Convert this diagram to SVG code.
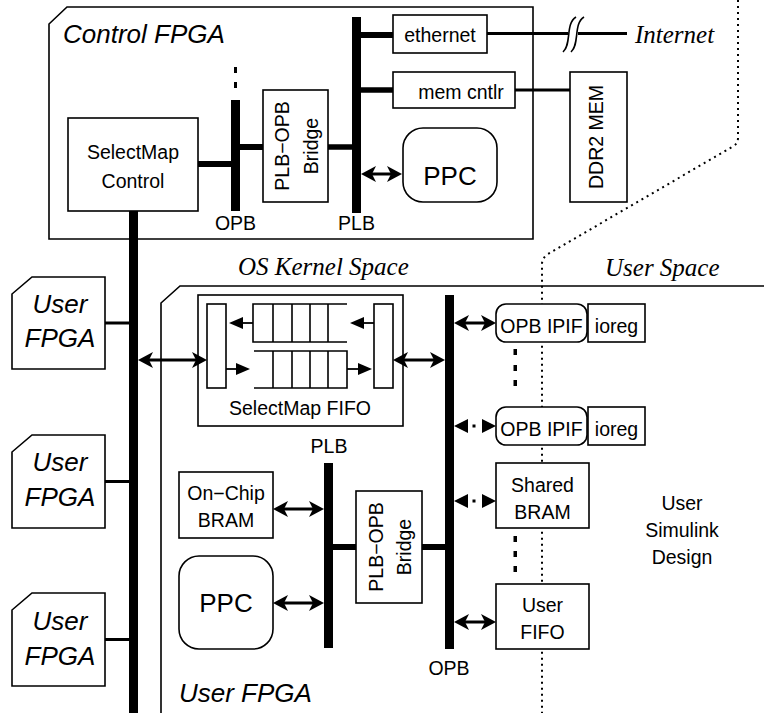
<svg xmlns="http://www.w3.org/2000/svg" width="764" height="713" viewBox="0 0 764 713">
<style>
.box{fill:#fff;stroke:#000;stroke-width:1.6}
.frame{fill:none;stroke:#000;stroke-width:1.6}
.bus{fill:#000;stroke:none}
.t{font-family:"Liberation Sans",Arial,sans-serif;font-size:19.5px;text-anchor:middle;fill:#000}
.big{font-size:26px}
.ti{font-family:"Liberation Sans",Arial,sans-serif;font-style:italic;font-size:26px;fill:#000}
.tr{font-family:"Liberation Serif","Times New Roman",serif;font-style:italic;font-size:25px;fill:#000}
.thick{stroke:#000;stroke-width:5.5;fill:none}
.thin{stroke:#000;stroke-width:3;fill:none}
.arr{stroke:#000;stroke-width:3;fill:none;marker-start:url(#ah);marker-end:url(#ah)}
.sarr{stroke:#000;stroke-width:1.8;fill:none;marker-end:url(#sh)}
.dotl{stroke:#000;stroke-width:2;stroke-dasharray:2 4;fill:none}
.fifo{stroke:#000;stroke-width:1.6;fill:none}
</style>
<defs>
<marker id="ah" viewBox="-12 -9 18 18" refX="0" refY="0" markerWidth="18" markerHeight="18" markerUnits="userSpaceOnUse" orient="auto-start-reverse">
<path d="M5,0 L-10,-8 L-6,0 L-10,8 Z" fill="#000"/>
</marker>
<marker id="sh" viewBox="-13 -7 18 14" refX="0" refY="0" markerWidth="18" markerHeight="14" markerUnits="userSpaceOnUse" orient="auto">
<path d="M3,0 L-11,-6 L-11,6 Z" fill="#000"/>
</marker>
</defs>

<!-- space separator -->
<path class="dotl" d="M738,0 L738,138 Q738,144 732,147 L548,254 Q542,258 542,264 L542,713"/>

<g id="control-fpga">
<polygon class="box" points="67,7 533,7 533,239 49,239 49,24"/>
<text class="ti" x="63" y="43">Control FPGA</text>
</g>

<g id="ctrl-plb-bus">
<rect class="bus" x="352" y="17" width="9" height="196"/>
<text class="t" x="356.5" y="230">PLB</text>
</g>
<g id="ctrl-opb-bus">
<rect class="bus" x="231" y="100" width="9" height="111"/>
<rect class="bus" x="234" y="67" width="3" height="6"/>
<rect class="bus" x="234" y="82" width="3" height="6"/>
<text class="t" x="235.5" y="230">OPB</text>
</g>
<g id="selectmap-bus">
<rect class="bus" x="129" y="211" width="9" height="502"/>
</g>

<g id="selectmap-control">
<rect class="box" x="68" y="118" width="130" height="93"/>
<text class="t" x="133" y="159">SelectMap</text>
<text class="t" x="133" y="188">Control</text>
</g>
<g id="ctrl-bridge">
<rect class="box" x="263" y="90" width="65" height="112"/>
<text class="t" transform="translate(289,146) rotate(-90)">PLB−OPB</text>
<text class="t" transform="translate(318,146) rotate(-90)">Bridge</text>
</g>
<g id="ethernet">
<rect class="box" x="393" y="15" width="94" height="38"/>
<text class="t" x="440" y="42">ethernet</text>
</g>
<g id="mem-cntlr">
<rect class="box" x="393" y="72" width="122" height="36"/>
<text class="t" x="461" y="99">mem cntlr</text>
</g>
<g id="ctrl-ppc">
<rect class="box" x="403" y="128" width="94" height="74" rx="20" ry="20"/>
<text class="t big" x="450" y="185">PPC</text>
</g>
<g id="ddr2-mem">
<rect class="box" x="570" y="72" width="57" height="130"/>
<text class="t" transform="translate(603,137) rotate(-90)">DDR2 MEM</text>
</g>
<g id="internet">
<text class="tr" x="635" y="43">Internet</text>
</g>

<g id="labels">
<text class="tr" x="238" y="275">OS Kernel Space</text>
<text class="tr" x="605" y="276">User Space</text>
</g>

<g id="user-fpga-1">
<polygon class="box" points="32,277 105,277 105,369 12,369 12,294"/>
<text class="ti" x="60" y="313" text-anchor="middle">User</text>
<text class="ti" x="60" y="347" text-anchor="middle">FPGA</text>
</g>
<g id="user-fpga-2">
<polygon class="box" points="32,435 105,435 105,528 12,528 12,452"/>
<text class="ti" x="60" y="471" text-anchor="middle">User</text>
<text class="ti" x="60" y="506" text-anchor="middle">FPGA</text>
</g>
<g id="user-fpga-3">
<polygon class="box" points="32,593 105,593 105,686 12,686 12,610"/>
<text class="ti" x="60" y="630" text-anchor="middle">User</text>
<text class="ti" x="60" y="665" text-anchor="middle">FPGA</text>
</g>

<g id="user-fpga">
<polyline class="frame" points="161,713 161,303 180,286 764,286"/>
<text class="ti" x="179" y="702">User FPGA</text>
</g>

<g id="selectmap-fifo">
<rect class="box" x="198" y="295" width="205" height="131"/>
<rect class="box" x="207" y="304" width="19" height="84"/>
<rect class="box" x="374" y="304" width="19" height="84"/>
<path class="fifo" d="M347,304 H253 V342 H347 M273,304 V342 M292,304 V342 M310,304 V342 M328,304 V342"/>
<path class="fifo" d="M254,351 H347 V388 H254 M273,351 V388 M292,351 V388 M310,351 V388 M328,351 V388"/>
<line class="sarr" x1="253" y1="323" x2="232" y2="323"/>
<line class="sarr" x1="374" y1="323" x2="353" y2="323"/>
<line class="sarr" x1="226" y1="369" x2="247" y2="369"/>
<line class="sarr" x1="347" y1="369" x2="369" y2="369"/>
<text class="t" x="300" y="415">SelectMap FIFO</text>
</g>

<g id="user-opb-bus">
<rect class="bus" x="445" y="295" width="9" height="354"/>
<text class="t" x="449" y="675">OPB</text>
</g>
<g id="user-plb-bus">
<rect class="bus" x="324" y="463" width="9" height="185"/>
<text class="t" x="329" y="453">PLB</text>
</g>
<g id="user-bridge">
<rect class="box" x="356" y="491" width="66" height="112"/>
<text class="t" transform="translate(383,547) rotate(-90)">PLB−OPB</text>
<text class="t" transform="translate(411,547) rotate(-90)">Bridge</text>
</g>
<g id="on-chip-bram">
<rect class="box" x="179" y="472" width="94" height="66"/>
<text class="t" x="226" y="500">On−Chip</text>
<text class="t" x="226" y="527">BRAM</text>
</g>
<g id="user-ppc">
<rect class="box" x="179" y="556" width="94" height="93" rx="20" ry="20"/>
<text class="t big" x="226" y="612">PPC</text>
</g>

<g id="opb-ipif-1">
<rect class="box" x="496" y="304" width="91" height="38" rx="10" ry="10"/>
<text class="t" x="541.5" y="333">OPB IPIF</text>
</g>
<g id="ioreg-1">
<rect class="box" x="588" y="304" width="57" height="38"/>
<text class="t" x="616.5" y="333">ioreg</text>
</g>
<g id="ipif-dots">
<rect class="bus" x="513.5" y="349" width="3.5" height="6"/>
<rect class="bus" x="513.5" y="365" width="3.5" height="6"/>
<rect class="bus" x="513.5" y="380" width="3.5" height="6"/>
</g>
<g id="opb-ipif-2">
<rect class="box" x="496" y="407" width="91" height="38" rx="10" ry="10"/>
<text class="t" x="541.5" y="436">OPB IPIF</text>
</g>
<g id="ioreg-2">
<rect class="box" x="588" y="407" width="57" height="38"/>
<text class="t" x="616.5" y="436">ioreg</text>
</g>
<g id="shared-bram">
<rect class="box" x="496" y="463" width="93" height="65"/>
<text class="t" x="542.5" y="492">Shared</text>
<text class="t" x="542.5" y="519">BRAM</text>
</g>
<g id="bram-dots">
<rect class="bus" x="513.5" y="536" width="3.5" height="6"/>
<rect class="bus" x="513.5" y="551" width="3.5" height="6"/>
<rect class="bus" x="513.5" y="566" width="3.5" height="6"/>
</g>
<g id="user-fifo">
<rect class="box" x="496" y="584" width="93" height="65"/>
<text class="t" x="542.5" y="612">User</text>
<text class="t" x="542.5" y="639">FIFO</text>
</g>
<g id="user-simulink-design">
<text class="t" x="682" y="510">User</text>
<text class="t" x="682" y="537">Simulink</text>
<text class="t" x="682" y="564">Design</text>
</g>

<g id="connectors">
<line class="thick" x1="198" y1="164" x2="231" y2="164" style="stroke-width:6"/>
<line class="thick" x1="240" y1="147" x2="263" y2="147" style="stroke-width:6"/>
<line class="thick" x1="328" y1="147" x2="352" y2="147"/>
<line class="thick" x1="361" y1="35" x2="393" y2="35" style="stroke-width:6"/>
<line class="thick" x1="361" y1="90" x2="393" y2="90"/>
<line class="arr" x1="366" y1="174" x2="397" y2="174"/>
<line class="thin" x1="487" y1="33.5" x2="568" y2="33.5"/>
<line class="thin" x1="578" y1="33.5" x2="627" y2="33.5"/>
<path d="M563,52 C572,44 565,24 576,17" fill="none" stroke="#000" stroke-width="1.6"/>
<path d="M571,52 C580,44 573,24 584,17" fill="none" stroke="#000" stroke-width="1.6"/>
<line class="thin" x1="515" y1="90" x2="570" y2="90"/>
<line class="thin" x1="105" y1="323" x2="129" y2="323"/>
<line class="thin" x1="105" y1="481.5" x2="129" y2="481.5"/>
<line class="thin" x1="105" y1="639.5" x2="129" y2="639.5"/>
<line class="arr" x1="143" y1="360" x2="202" y2="360"/>
<line class="arr" x1="398" y1="360" x2="440" y2="360"/>
<line class="arr" x1="459" y1="323" x2="491" y2="323"/>
<polygon points="454,426 468,419 468,433" fill="#000"/>
<rect x="472.5" y="424.5" width="3" height="3" fill="#000"/>
<polygon points="496,426 482,419 482,433" fill="#000"/>
<polygon points="454,501 468,494 468,508" fill="#000"/>
<rect x="472.5" y="499.5" width="3" height="3" fill="#000"/>
<polygon points="496,501 482,494 482,508" fill="#000"/>
<line class="arr" x1="459" y1="622" x2="491" y2="622"/>
<line class="arr" x1="278" y1="509" x2="319" y2="509"/>
<line class="arr" x1="278" y1="603" x2="319" y2="603"/>
<line class="thick" x1="333" y1="547" x2="356" y2="547" style="stroke-width:6"/>
<line class="thick" x1="422" y1="547" x2="445" y2="547" style="stroke-width:6"/>
</g>
</svg>
